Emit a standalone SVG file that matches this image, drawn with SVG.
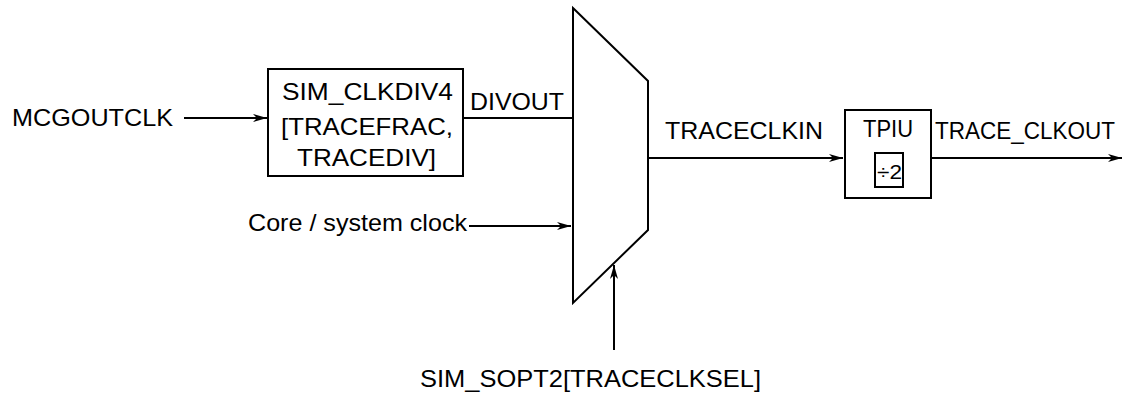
<svg xmlns="http://www.w3.org/2000/svg" width="1124" height="395" viewBox="0 0 1124 395">
<defs>
<style>
text{font-family:"Liberation Sans",Arial,sans-serif;font-size:24px;fill:#000}
.ln{stroke:#000;stroke-width:2;fill:none}
.sh{stroke:#000;stroke-width:2;fill:#fff}
</style>
<marker id="ah" viewBox="0 0 14 8" refX="14" refY="4" markerWidth="14" markerHeight="8" markerUnits="userSpaceOnUse" orient="auto">
<path d="M0,0 L14,4 L0,8 L4,4 Z" fill="#000"/>
</marker>
</defs>
<rect width="1124" height="395" fill="#fff"/>
<g id="connectors">
<line class="ln" x1="184" y1="118" x2="267" y2="118" marker-end="url(#ah)"/>
<line class="ln" x1="463" y1="118" x2="573" y2="118"/>
<line class="ln" x1="469" y1="226" x2="571" y2="226" marker-end="url(#ah)"/>
<line class="ln" x1="614" y1="350" x2="614" y2="265" marker-end="url(#ah)"/>
<line class="ln" x1="648" y1="158" x2="843" y2="158" marker-end="url(#ah)"/>
<line class="ln" x1="931" y1="158" x2="1122" y2="158" marker-end="url(#ah)"/>
</g>
<g id="mcgoutclk"><text x="12" y="126" textLength="161" lengthAdjust="spacingAndGlyphs">MCGOUTCLK</text></g>
<g id="clkdiv">
<rect class="sh" x="268" y="69" width="195" height="107"/>
<text x="282" y="100" textLength="171" lengthAdjust="spacingAndGlyphs">SIM_CLKDIV4</text>
<text x="281" y="135" textLength="172" lengthAdjust="spacingAndGlyphs">[TRACEFRAC,</text>
<text x="297" y="166" textLength="139" lengthAdjust="spacingAndGlyphs">TRACEDIV]</text>
</g>
<g id="divout"><text x="470" y="110" textLength="94" lengthAdjust="spacingAndGlyphs">DIVOUT</text></g>
<g id="coreclk"><text x="248" y="231" textLength="219" lengthAdjust="spacingAndGlyphs">Core / system clock</text></g>
<g id="mux"><path class="sh" d="M573,8 L648,81 L648,230 L573,303 Z"/></g>
<g id="sopt2"><text x="420" y="387" textLength="341" lengthAdjust="spacingAndGlyphs">SIM_SOPT2[TRACECLKSEL]</text></g>
<g id="traceclkin"><text x="665" y="139" textLength="158" lengthAdjust="spacingAndGlyphs">TRACECLKIN</text></g>
<g id="tpiu">
<rect class="sh" x="845" y="110" width="86" height="88"/>
<text x="863" y="137" textLength="50" lengthAdjust="spacingAndGlyphs">TPIU</text>
<rect class="ln" x="875" y="153" width="28" height="34" stroke-width="1.5"/>
<text x="877" y="179" textLength="25" lengthAdjust="spacingAndGlyphs" style="font-size:20px">÷2</text>
</g>
<g id="clkout"><text x="935" y="139" textLength="180" lengthAdjust="spacingAndGlyphs" style="font-size:23px">TRACE_CLKOUT</text></g>
</svg>
